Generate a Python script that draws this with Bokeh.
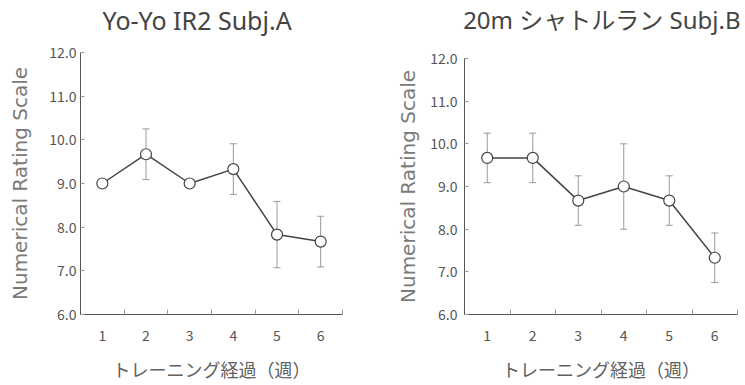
from bokeh.plotting import figure
from bokeh.layouts import row
from bokeh.models import (ColumnDataSource, FixedTicker, PrintfTickFormatter,
                          Range1d, Whisker, TeeHead, Title)
from bokeh.embed import file_html
from bokeh.resources import INLINE

weeks = [1, 2, 3, 4, 5, 6]
week_labels = ["1", "2", "3", "4", "5", "6"]
week_bounds = [1.5, 2.5, 3.5, 4.5, 5.5, 6.5]
y_ticks = [6, 7, 8, 9, 10, 11, 12]

title_a = "Yo-Yo IR2  Subj.A"
mean_a = [9.0, 9.67, 9.0, 9.33, 7.83, 7.67]
sd_a = [0.0, 0.58, 0.0, 0.58, 0.76, 0.58]

title_b = "20m シャトルラン Subj.B"
mean_b = [9.67, 9.67, 8.67, 9.0, 8.67, 7.33]
sd_b = [0.58, 0.58, 0.58, 1.0, 0.58, 0.58]

y_label = "Numerical Rating Scale"
x_label = "トレーニング経過（週）"

JP = "Noto Sans CJK JP"
TITLE_FONT = "Noto Sans, Noto Sans CJK JP"


def make(title, mean, sd, width, bl, br, bt, bb, title_align, title_offset,
         title_size, spacer, ylabel_standoff, ytick_standoff):
    src = ColumnDataSource(dict(
        x=weeks, y=mean,
        upper=[m + s for m, s in zip(mean, sd)],
        lower=[m - s for m, s in zip(mean, sd)],
    ))
    p = figure(width=width, height=385, output_backend="svg", title=None,
               toolbar_location=None, x_range=Range1d(0.5, 6.5),
               y_range=Range1d(6, 12), min_border_left=bl,
               min_border_right=br, min_border_top=bt, min_border_bottom=bb)
    p.frame_align = False
    p.outline_line_color = None
    p.grid.visible = False
    p.background_fill_color = "white"

    # thin spacer between frame and title, then the title itself
    p.add_layout(Title(text=" ", text_font_size="1px", standoff=spacer), "above")
    p.add_layout(Title(text=title, text_font=TITLE_FONT,
                       text_font_size=title_size,
                       text_font_style="normal", text_color="#444444",
                       align=title_align, offset=title_offset, standoff=0,
                       vertical_align="bottom"), "above")

    xa = p.xaxis[0]
    xa.ticker = FixedTicker(ticks=weeks, minor_ticks=week_bounds)
    xa.major_label_overrides = {w: l for w, l in zip(weeks, week_labels)}
    xa.major_tick_in = 0
    xa.major_tick_out = 0
    xa.minor_tick_in = 5
    xa.minor_tick_out = 0
    xa.minor_tick_line_color = "#999999"
    xa.axis_line_color = "#555555"
    xa.major_label_text_font = JP
    xa.major_label_text_font_size = "14px"
    xa.major_label_text_color = "#555555"
    xa.major_label_standoff = 15
    xa.axis_label = x_label
    xa.axis_label_text_font = JP
    xa.axis_label_text_font_size = "18px"
    xa.axis_label_text_font_style = "normal"
    xa.axis_label_text_color = "#606060"
    xa.axis_label_standoff = 12

    ya = p.yaxis[0]
    ya.ticker = FixedTicker(ticks=y_ticks)
    ya.formatter = PrintfTickFormatter(format="%.1f")
    ya.major_tick_in = 4
    ya.major_tick_out = 0
    ya.minor_tick_line_color = None
    ya.major_tick_line_color = "#999999"
    ya.axis_line_color = "#555555"
    ya.major_label_text_font = JP
    ya.major_label_text_font_size = "14px"
    ya.major_label_text_color = "#555555"
    ya.major_label_standoff = ytick_standoff
    ya.axis_label = y_label
    ya.axis_label_text_font = "DejaVu Sans"
    ya.axis_label_text_font_size = "20px"
    ya.axis_label_text_font_style = "normal"
    ya.axis_label_text_color = "#7a7a7a"
    ya.axis_label_standoff = ylabel_standoff

    w = Whisker(source=src, base="x", upper="upper", lower="lower",
                line_color="#9a9a9a", line_width=1, level="underlay",
                upper_head=TeeHead(size=7, line_color="#9a9a9a", line_width=1),
                lower_head=TeeHead(size=7, line_color="#9a9a9a", line_width=1))
    p.add_layout(w)
    p.line("x", "y", source=src, line_color="#444444", line_width=1.5)
    p.scatter("x", "y", source=src, size=11, fill_color="white",
              line_color="#444444", line_width=1.2)
    return p


p1 = make(title_a, mean_a, sd_a, 372, 80, 30, 51, 71, "left", 22, "25px", 13, 14, 4)
p2 = make(title_b, mean_b, sd_b, 373, 92, 8, 58, 71, "right", -3, "24px", 20, 7, 7)

layout = row(p1, p2)
open("out.html", "w").write(file_html(layout, INLINE))
